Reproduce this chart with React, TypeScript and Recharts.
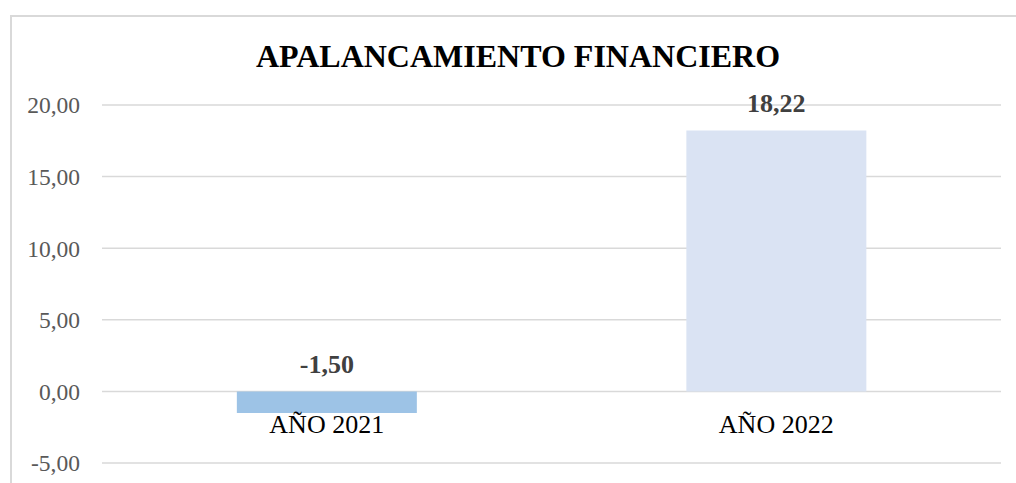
import { BarChart, Bar, XAxis, YAxis, CartesianGrid, Cell, LabelList } from 'recharts'

const categories = ['AÑO 2021', 'AÑO 2022']
const values = [-1.5, 18.22]
const barColors = ['#9DC3E6', '#DAE3F3']
const yTicks = [-5, 0, 5, 10, 15, 20]

const data = categories.map((name, i) => ({ name, value: values[i] }))

const fmt = (v: number) => v.toFixed(2).replace('.', ',')
const font = '"Liberation Serif", "Times New Roman", serif'

function CategoryTick(props: any) {
  const { x, y, payload } = props
  return (
    <text x={x} y={y - 39} textAnchor="middle" dominantBaseline="central" fill="#000" fontSize={26} fontFamily={font}>
      {payload.value}
    </text>
  )
}

function ValueLabel(props: any) {
  const { x, y, width, height, value } = props
  const top = Math.min(y, y + height)
  return (
    <text
      x={x + width / 2}
      y={top - 27}
      textAnchor="middle"
      dominantBaseline="central"
      fill="#404040"
      fontSize={26}
      fontWeight="bold"
      fontFamily={font}
    >
      {fmt(value)}
    </text>
  )
}

export default function App() {
  return (
    <div style={{ position: 'absolute', left: 0, top: 0, width: 1016, height: 483, overflow: 'hidden', background: '#fff' }}>
      <div
        style={{
          position: 'absolute',
          left: 10,
          top: 15,
          width: 1030,
          height: 500,
          border: '2px solid #d9d9d9',
          boxSizing: 'border-box',
        }}
      />
      <div
        style={{
          position: 'absolute',
          left: 10,
          top: 41,
          width: 1016,
          textAlign: 'center',
          fontFamily: font,
          fontSize: 32,
          lineHeight: '31px',
          fontWeight: 'bold',
          color: '#000',
        }}
      >
        APALANCAMIENTO FINANCIERO
      </div>
      <div style={{ position: 'absolute', left: 0, top: 0 }}>
        <BarChart
          width={1016}
          height={483}
          data={data}
          margin={{ top: 105, right: 15, bottom: 0, left: 10 }}
          barCategoryGap="30%"
        >
          <CartesianGrid vertical={false} stroke="#d9d9d9" strokeWidth={1.5} />
          <XAxis
            dataKey="name"
            height={20}
            axisLine={false}
            tickLine={false}
            tickSize={0}
            tickMargin={0}
            tick={<CategoryTick />}
          />
          <YAxis
            width={92}
            domain={[-5, 20]}
            ticks={yTicks}
            axisLine={false}
            tickLine={false}
            tickSize={0}
            tickMargin={22}
            tickFormatter={fmt}
            tick={{ fill: '#595959', fontSize: 23.5, fontFamily: font }}
          />
          <Bar dataKey="value" isAnimationActive={false}>
            {data.map((d, i) => (
              <Cell key={d.name} fill={barColors[i]} />
            ))}
            <LabelList dataKey="value" content={<ValueLabel />} />
          </Bar>
        </BarChart>
      </div>
    </div>
  )
}
